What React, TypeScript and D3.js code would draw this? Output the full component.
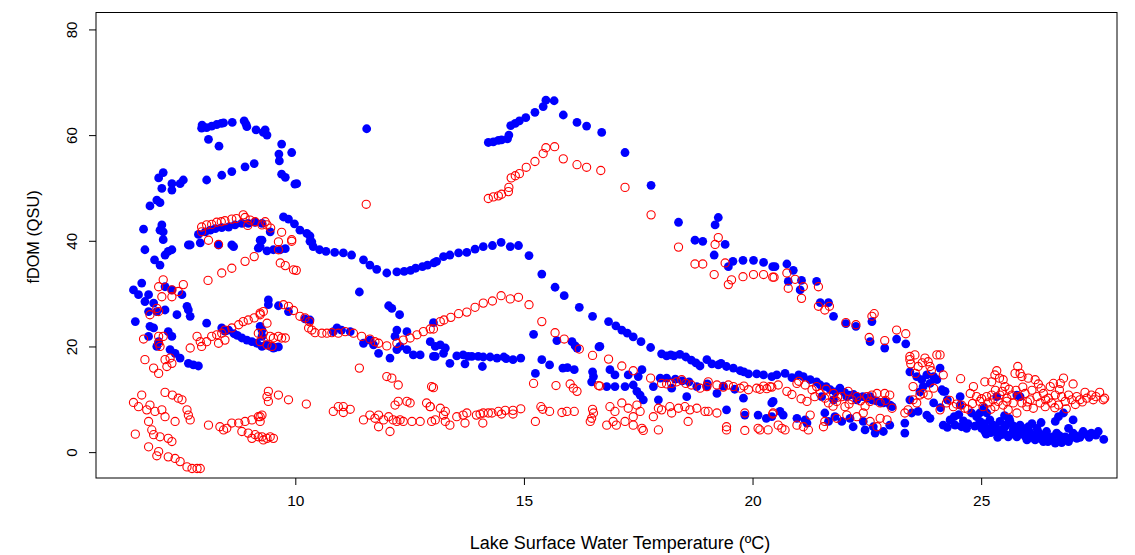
import React from "react";
import * as d3 from "d3";

// Blue series (filled dots): [temperature ºC, fDOM QSU]
const bluePoints: [number, number][] = [
  [7.10,53.0],[7.00,52.0],[7.07,50.0],[7.29,50.9],[7.29,49.7],[7.47,50.9],[7.54,51.6],[6.96,47.8],[7.03,47.3],[6.81,46.7],[7.07,43.1],[7.03,42.1],[7.10,41.8],[6.67,42.3],[7.10,40.3],
  [6.70,38.4],[6.91,36.5],[7.03,35.5],[7.14,37.4],[7.21,38.1],[7.29,38.4],[7.65,39.3],[7.91,39.7],[8.31,39.3],[8.64,39.0],[9.18,38.7],
  [6.63,32.1],[6.45,30.8],[6.56,29.9],[6.78,29.9],[6.70,28.6],[6.89,28.3],[7.14,31.4],[7.29,30.8],[7.51,29.9],[6.96,26.7],[7.14,27.0],[7.62,27.7],[7.65,27.0],[7.40,26.1],[7.69,25.8],[6.78,26.7],[6.49,24.8],[6.81,23.9],[6.89,23.6],[6.78,22.0],[7.21,22.9],[7.29,22.0],[6.96,20.1],[7.00,21.0],[7.25,19.5],[7.36,18.8],[7.47,17.9],[7.65,16.9],[7.76,16.6],[7.87,16.4],
  [8.05,24.5],[8.82,21.7],[8.93,21.3],[9.04,21.0],[9.15,20.7],[9.26,20.1],[8.38,23.6],[8.53,23.2],[9.26,23.2],[8.45,23.0],[8.65,22.5],[8.72,22.2],[9.35,20.4],[9.55,19.9],[9.62,20.0],
  [7.94,61.4],[7.95,62.0],[8.05,61.5],[8.16,61.8],[8.27,62.1],[8.37,62.3],[8.42,62.4],[8.61,62.5],[8.87,62.8],[8.91,62.2],[8.93,61.7],[9.13,61.1],[9.29,60.6],[9.33,61.1],[9.37,60.1],[9.69,58.4],[9.63,56.5],[9.91,56.8],[9.64,55.2],[9.69,52.7],[9.77,52.1],[9.98,50.8],[10.02,50.9],[8.09,59.3],[8.32,58.0],
  [8.05,51.6],[8.38,52.5],[8.60,53.2],[8.89,54.1],[9.09,54.7],[11.55,61.3],
  [7.87,41.3],[8.02,41.8],[8.13,42.1],[8.24,42.4],[8.38,42.6],[8.53,42.7],[8.67,43.1],[8.82,43.4],[8.96,43.4],[9.11,43.6],[9.26,43.4],[7.69,39.3],[9.22,40.2],[8.60,39.3],
  [9.44,41.8],[9.26,40.2],[9.73,44.6],[9.84,44.2],[9.97,43.3],[10.09,42.1],[10.24,41.5],[10.31,41.0],[10.35,39.9],
  [9.22,39.0],[9.37,38.2],[9.51,38.4],[9.66,38.4],[9.77,38.6],
  [10.31,40.0],[10.38,39.0],[10.52,38.4],[10.66,38.1],[10.85,37.9],[11.04,37.8],[11.22,37.4],[11.48,36.5],[11.62,35.5],[11.77,34.7],[11.99,34.0],[12.21,34.2],[12.37,34.3],[12.51,34.5],[12.62,34.9],[12.77,35.2],[12.88,35.5],[13.02,35.9],
  [13.08,36.2],[13.23,37.1],[13.37,37.4],[13.56,37.8],[13.74,37.9],[13.92,38.5],[14.10,39.0],[14.30,39.2],[14.49,39.8],[14.69,39.0],[14.87,39.2],[15.10,37.3],[15.38,33.8],[15.67,31.3],[15.87,29.7],[16.20,27.5],[16.49,25.8],
  [16.84,24.8],[17.13,23.2],[17.38,21.9],[17.76,19.9],[18.00,18.7],[18.11,18.3],[18.27,18.3],[18.40,18.6],[18.53,18.1],[18.84,16.4],[18.99,17.6],[19.10,16.8],[19.24,16.6],[19.42,16.3],[19.57,16.0],[19.72,15.5],[19.90,14.9],[20.08,14.9],[20.23,14.7],[20.41,14.4],
  [17.00,24.0],[17.25,22.6],[17.55,21.0],[18.20,18.5],[18.65,17.5],[18.75,17.0],[19.30,16.9],[19.80,15.3],
  [20.52,14.7],[20.70,15.0],[20.85,14.2],[21.00,14.7],[21.10,14.4],[21.25,13.8],[21.39,13.4],[21.47,12.8],[21.60,12.5],[21.69,11.9],[21.80,11.5],[21.90,12.2],[22.00,11.4],[22.10,10.9],[22.20,11.0],[22.30,10.5],[22.40,10.6],[22.50,10.3],[22.60,10.0],[22.70,9.8],[22.80,9.5],[22.90,9.6],[23.00,9.0],
  [9.40,28.9],[9.40,28.0],[9.62,27.8],[9.84,26.7],[10.20,25.3],[10.31,25.1],[10.90,23.6],[11.00,23.2],[11.19,22.9],[10.82,22.9],[9.22,23.9],[9.26,22.0],[9.44,20.1],[9.51,19.8],[11.39,30.4],[12.03,27.8],[12.10,27.3],[12.27,26.1],
  [11.48,20.7],[11.62,21.3],[11.70,20.4],[11.81,18.8],[12.06,17.9],[12.21,19.5],[12.28,20.1],[12.43,19.5],[12.57,18.5],[12.72,18.5],[13.01,18.2],[12.17,22.0],[12.21,23.2],[12.43,22.9],[13.01,24.6],
  [12.94,21.0],[13.05,20.1],[13.16,20.4],[13.27,19.8],[13.23,18.8],[13.37,16.9],[13.05,18.2],[13.52,18.3],[13.66,18.5],[13.70,16.8],[13.77,18.2],[13.99,18.2],[14.10,18.1],[14.08,16.3],[14.25,18.1],[14.40,17.9],[14.55,18.1],[14.75,17.6],[14.92,17.9],[13.85,18.2],[14.60,17.8],
  [15.20,22.4],[15.24,15.0],[15.38,17.6],[15.55,16.6],[15.71,21.2],[15.84,16.0],[15.94,16.1],[16.09,15.7],[16.04,21.0],[16.11,20.2],[16.15,19.8],[16.49,15.3],[16.51,14.4],[16.47,13.4],[16.63,20.0],
  [16.65,20.1],[16.87,15.7],[16.98,14.7],[16.80,12.5],[16.98,12.5],[17.20,12.5],[17.27,14.7],[17.38,12.8],[17.49,14.4],[17.57,15.7],[17.46,11.6],[17.53,10.9],[17.60,10.0],[17.82,12.5],[17.93,10.0],[17.97,14.1],[18.11,14.1],[18.22,12.2],[18.55,10.6],[18.77,12.5],[18.99,12.5],[19.21,11.2],[19.42,8.1],[19.79,10.3],[19.82,7.1],[20.11,7.1],[20.29,6.5],[20.41,9.4],
  [18.30,13.9],[18.45,13.6],[18.60,13.4],[19.00,13.0],[19.35,12.6],[19.60,12.0],
  [16.69,60.6],[17.20,56.8],[17.77,50.6],[18.37,43.6],[18.73,40.2],[18.90,40.0],[19.24,44.5],[19.17,43.1],[19.39,39.4],[19.15,37.4],[19.46,35.2],[19.56,36.2],[19.78,36.4],[20.01,36.4],[20.23,36.0],[20.43,35.2],
  [14.21,58.7],[14.32,58.8],[14.43,59.1],[14.50,59.2],[14.63,59.4],[14.66,60.1],[14.70,61.9],[14.80,62.3],[14.89,62.8],[15.03,63.4],[15.23,64.4],[15.41,65.5],[15.47,66.7],[15.65,66.6],[15.85,63.9],[16.15,62.5],[16.36,61.8],
  [20.48,35.2],[20.74,35.7],[20.88,34.5],[20.77,32.4],[21.06,32.6],[21.03,30.8],[21.39,32.4],[21.47,28.4],[21.65,28.4],[21.76,25.8],[22.03,24.4],[22.25,23.9],[22.60,24.8],[22.56,21.0],[22.88,19.8],[23.14,21.5],[23.34,20.6],
  [23.43,15.3],[23.58,14.4],[23.69,13.8],[23.80,14.7],[23.95,14.4],[24.02,13.8],[23.87,13.1],[23.72,12.5],[23.43,10.0],[23.47,7.5],[23.61,7.8],[23.80,7.1],[23.87,6.5],[23.95,9.4],[23.32,5.6],[23.32,3.7],[23.65,11.5],
  [20.44,9.7],[20.59,7.8],[20.66,7.1],[20.96,6.5],[21.14,6.2],[21.18,5.6],[21.57,7.5],[21.65,5.9],[21.79,6.8],[21.94,5.9],[22.12,6.5],[22.19,4.9],[22.41,5.9],[22.45,4.3],[22.63,4.9],[22.67,3.7],[22.85,4.0],[22.99,5.2],[21.50,10.6],[21.76,10.0],[22.05,10.6],[22.27,10.0],[22.56,10.6],[22.85,9.4],[23.04,8.7],[20.41,6.8],
  [24.16,5.2],[24.13,11.9],[24.20,11.6],[24.31,6.2],[24.42,5.2],[24.56,4.9],[24.67,4.6],[24.53,10.6],[24.78,7.5],[24.89,6.8],[24.96,5.9],[25.00,4.6],[25.07,4.0],[25.18,6.2],[25.25,5.2],[25.33,4.0],[25.40,5.9],[25.44,3.4],[25.51,4.9],[25.58,3.0],[25.62,5.9],[25.69,4.3],[25.77,3.0],[25.84,5.2],[25.91,3.7],[25.99,2.4],[26.02,4.9],[26.10,3.4],[26.17,2.4],[26.21,4.6],[26.28,3.0],[26.35,2.1],[26.42,4.0],[26.50,2.4],[26.61,1.8],[26.64,3.7],[26.72,2.4],[26.83,3.0],[26.90,2.1],[27.00,3.7],[27.08,2.7],[27.22,4.0],[27.30,3.4],[27.40,3.7],[27.55,4.0],[27.67,2.5],[25.77,10.9],[25.84,10.6],[25.33,10.6],[26.61,5.9],[26.68,6.8],[26.79,7.5],[27.00,6.2],[24.96,7.5],[25.11,7.5],[24.53,9.0],[24.09,16.0],[24.16,11.6],
  [24.25,4.8],[24.60,6.0],[24.70,5.5],[24.85,5.0],[25.05,5.5],[25.15,4.6],[25.20,3.8],[25.30,5.0],[25.45,4.4],[25.50,3.6],[25.55,5.4],[25.65,3.5],[25.70,5.0],[25.80,4.0],[25.90,4.6],[25.95,3.1],[26.05,3.9],[26.15,3.2],[26.25,3.8],[26.30,2.6],[26.40,3.2],[26.45,2.1],[26.55,3.0],[26.70,3.2],[26.75,1.9],[26.80,2.6],[26.95,2.8],[27.05,3.2],[27.15,2.9],[27.20,3.6],[27.35,2.9],[27.50,3.3],[25.10,3.5],[25.35,2.9],[24.40,6.8],[24.50,7.2],[25.05,8.5],[25.50,7.0],[25.60,6.5],[26.10,5.5],[26.30,5.7],[26.90,4.6],[24.10,8.5],[24.25,10.0],
];

// Red series (open circles): [temperature ºC, fDOM QSU]
const redPoints: [number, number][] = [
  [7.94,42.7],[8.05,43.1],[8.16,43.2],[8.27,43.6],[8.37,43.7],[8.60,44.2],[8.85,45.0],[8.89,44.5],[9.11,43.7],[9.26,43.1],[7.94,41.8],[8.09,40.2],[8.31,39.4],[9.33,43.7],[9.37,43.1],[9.69,41.7],[9.91,40.3],[9.62,39.9],[11.54,47.0],
  [8.45,43.9],[8.70,44.3],[9.00,44.0],[8.95,43.0],[9.45,42.5],
  [8.08,32.6],[8.38,34.0],[8.60,34.9],[8.89,36.2],[9.09,37.1],[7.10,32.7],[7.00,31.4],[7.29,30.8],[7.54,31.8],[7.43,30.5],[7.07,29.5],[7.29,29.5],[6.96,27.3],[7.00,26.7],[6.81,26.1],[6.67,21.5],[7.00,22.0],[7.10,22.0],[7.00,20.7],[7.03,20.1],[7.14,17.6],[7.25,17.9],[7.29,16.9],[7.18,16.3],[6.70,17.6],[6.89,16.0],[7.00,15.0],
  [7.69,19.8],[7.84,22.0],[7.91,21.0],[7.94,20.1],[8.05,21.0],[8.16,22.0],[8.27,22.3],[8.38,22.6],[8.45,23.2],[8.60,23.6],[8.75,24.2],[8.85,24.8],[8.96,25.1],[9.09,25.5],[9.22,26.1],[9.29,26.7],[8.31,20.7],[8.45,21.3],[9.18,22.6],[9.22,21.0],
  [6.63,10.9],[6.45,9.5],[6.56,8.7],[6.74,8.1],[6.81,9.0],[6.92,7.8],[6.78,5.9],[7.14,11.4],[7.30,10.9],[7.43,10.3],[7.51,10.0],[7.07,8.1],[7.14,6.8],[7.36,5.9],[7.62,8.1],[7.65,7.1],[7.69,6.2],[6.49,3.5],[6.85,4.3],[6.89,3.4],[7.03,3.0],[7.21,2.7],[7.29,2.1],[6.78,1.1],[7.00,0.2],[6.96,-0.6],[7.21,-0.8],[7.36,-1.1],[7.47,-1.7],[7.62,-2.7],[7.73,-3.0],[7.84,-3.0],[7.91,-3.0],
  [8.09,5.2],[8.34,4.9],[8.42,4.3],[8.49,4.6],[8.60,5.6],[8.75,5.6],[8.89,5.9],[9.04,6.2],[9.18,6.8],[9.26,7.1],[8.82,4.0],[8.96,3.7],[9.11,3.4],[9.18,3.0],[9.04,2.7],
  [9.62,38.4],[9.66,35.9],[9.77,35.4],[9.95,34.6],[10.01,34.5],[9.91,40.0],[9.73,28.0],[9.84,27.7],[9.95,26.9],[10.09,25.8],[10.20,25.5],[10.30,24.8],[10.28,23.6],[10.35,23.2],[10.42,22.7],[10.57,22.6],[10.68,22.6],[10.79,22.7],[10.93,22.6],[11.08,22.9],[11.26,22.6],[11.44,22.0],[11.62,21.5],[11.73,21.0],[11.81,20.7],[11.99,20.2],[12.21,20.7],[12.35,21.3],[12.50,21.7],[12.65,22.3],[12.79,22.9],[12.94,23.4],
  [9.22,26.4],[9.37,24.5],[9.29,22.6],[9.44,22.0],[9.51,21.7],[9.62,22.0],[9.69,21.7],[9.77,21.7],[9.37,20.4],[9.48,20.1],[11.39,16.0],[11.99,14.4],[12.10,14.1],[12.24,12.8],
  [9.40,11.6],[9.37,10.6],[9.40,9.7],[9.62,10.9],[9.84,10.0],[10.23,9.2],[10.82,7.8],[10.93,8.7],[11.04,8.7],[11.04,7.6],[11.19,8.2],[11.48,6.2],[11.62,7.1],[11.73,6.5],[11.81,7.1],[11.81,4.9],[11.92,6.2],[12.03,6.8],[12.06,4.0],[12.13,6.2],[12.21,5.9],[12.28,6.2],[12.35,5.9],[12.54,5.9],[12.72,5.9],[12.17,9.0],[12.24,9.7],[12.43,9.7],[12.50,9.4],[12.86,9.4],[12.94,8.7],[12.97,12.5],[12.97,5.9],[9.22,6.8],[9.22,5.9],[9.26,3.0],[9.37,2.7],[9.44,3.0],[9.51,2.7],[9.29,2.4],
  [14.21,48.1],[14.32,48.4],[14.43,48.6],[14.50,48.9],[14.65,49.4],[14.66,50.2],[14.71,52.0],[14.80,52.4],[14.89,52.8],[15.04,54.0],[15.23,55.1],[15.41,56.6],[15.47,57.7],[15.66,57.9],[15.85,55.6],[16.15,54.5],[16.36,54.0],[16.67,53.4],
  [13.01,23.4],[13.16,24.8],[13.24,25.1],[13.39,25.6],[13.56,26.3],[13.74,26.6],[13.92,27.5],[14.10,28.3],[14.30,28.7],[14.49,29.7],[14.69,29.1],[14.87,29.4],[15.10,28.0],[15.38,24.8],[15.67,22.7],[15.87,21.5],[16.20,19.6],[16.49,18.4],
  [13.01,12.3],[15.20,13.1],[15.69,12.7],[16.00,13.0],[16.07,12.2],[16.15,11.6],[16.62,12.7],
  [12.94,8.7],[13.16,8.4],[13.27,7.8],[13.05,6.2],[13.23,7.1],[13.27,5.9],[13.37,5.2],[13.52,6.8],[13.66,7.1],[13.70,5.6],[13.74,7.5],[13.95,7.1],[14.03,7.3],[14.10,7.5],[14.09,5.6],[14.21,7.5],[14.29,7.5],[14.43,7.8],[14.50,7.3],[14.58,8.0],[14.75,8.0],[14.75,7.3],[14.92,8.3],[15.24,5.9],[15.36,8.7],[15.40,8.2],[15.55,7.8],[15.82,7.6],[15.93,7.8],[16.09,7.8],[16.49,8.2],[16.51,7.5],[16.47,6.5],[16.44,5.9],
  [17.20,50.2],[17.77,45.0],[18.37,38.9],[19.24,40.7],[19.17,39.4],[18.73,35.7],[18.90,35.7],[19.39,35.9],[19.15,33.7],[19.46,31.8],[19.53,32.7],[19.78,33.3],[20.01,33.7],[20.23,33.7],[20.43,33.2],
  [16.84,17.7],[17.13,16.4],[17.38,15.5],[16.65,12.6],[17.76,14.1],[18.00,13.1],[18.11,13.0],[18.22,13.1],[18.33,13.4],[18.44,13.8],[18.53,13.1],[18.84,12.2],[18.99,12.5],[19.02,13.4],[19.21,12.8],[19.46,12.8],[19.57,12.5],[19.72,12.2],[19.90,11.9],[20.08,12.2],[20.23,12.6],[20.41,12.4],
  [18.65,12.8],[19.35,12.4],[19.80,12.6],[20.15,12.0],[20.30,12.1],
  [16.87,8.7],[17.13,9.4],[16.98,7.8],[17.27,8.4],[17.46,9.0],[17.53,7.8],[17.38,6.8],[16.80,5.2],[16.94,5.9],[17.01,5.2],[17.20,5.9],[17.38,5.2],[17.57,4.6],[17.60,4.2],[17.82,6.8],[17.93,8.4],[18.00,8.1],[18.18,8.7],[18.22,7.5],[18.37,8.4],[18.51,8.7],[18.62,8.1],[18.77,8.4],[18.95,7.8],[19.02,7.8],[19.21,7.5],[18.58,5.9],[17.93,4.3],[19.42,4.9],[19.42,4.3],[19.82,7.5],[19.82,4.2],[20.11,4.6],[20.15,4.3],[20.33,4.3],[20.43,7.3],
  [20.46,33.2],[20.74,34.0],[20.92,32.8],[20.77,31.1],[21.10,31.4],[21.06,29.2],[21.43,31.4],[21.43,27.7],[21.57,27.0],[21.67,27.7],[22.03,24.6],[22.25,24.2],[22.60,25.8],[22.65,26.3],[22.54,21.8],[22.88,21.2],[23.14,23.2],[23.34,22.5],
  [23.43,18.2],[23.54,18.5],[23.76,17.9],[23.83,17.2],[24.02,18.5],[23.61,16.3],[23.87,16.3],[23.43,17.6],[23.50,12.5],[23.65,10.9],[23.72,11.2],[23.83,10.9],[23.95,12.2],[23.50,10.0],[23.32,7.5],[23.39,8.1],[23.58,9.4],[23.70,17.0],[23.90,15.5],[23.55,15.0],[23.45,16.8],
  [20.37,12.5],[20.55,12.8],[20.74,11.6],[20.96,13.1],[21.14,12.8],[21.29,11.9],[21.39,12.5],[21.18,9.7],[21.47,11.2],[21.57,10.3],[21.65,9.4],[21.76,11.2],[21.83,9.7],[21.94,10.6],[22.01,8.7],[22.08,11.6],[22.16,10.0],[22.27,10.6],[22.49,10.6],[22.56,9.7],[22.71,11.2],[22.78,9.4],[22.88,11.2],[22.99,10.9],[23.04,8.4],
  [20.44,7.5],[20.55,5.2],[20.63,4.6],[20.70,4.3],[20.96,5.2],[21.10,4.9],[21.21,4.3],[21.25,7.1],[21.54,4.9],[21.57,5.9],[21.83,6.5],[22.05,7.1],[22.27,6.8],[22.41,7.5],[22.56,5.9],[22.71,4.9],[22.78,6.5],[22.93,6.2],
  [21.00,13.5],[21.60,12.0],[21.85,10.5],[22.10,9.2],[22.35,9.8],[22.45,8.8],[22.60,10.9],[22.90,9.9],[21.35,10.6],[21.75,8.8],[20.85,11.0],[21.05,10.2],
  [24.09,18.5],[24.16,14.7],[24.54,14.0],[24.82,12.5],[24.75,11.2],[25.07,13.4],[25.22,13.4],[25.29,14.7],[25.33,15.5],[25.39,14.1],[25.47,13.8],[25.51,12.5],[25.73,15.0],[25.79,16.3],[25.84,15.0],[25.88,14.4],[26.02,14.1],[26.17,13.8],[26.24,13.0],[26.50,12.5],[26.57,13.1],[26.72,13.1],[26.79,14.1],[27.00,13.0],[27.26,11.4],[27.40,10.9],[27.58,11.4],[27.69,10.3],[27.66,10.0],
  [24.23,9.4],[24.38,8.7],[24.56,9.0],[24.63,8.4],[24.89,10.6],[24.96,9.7],[25.03,8.7],[25.11,10.6],[25.14,9.4],[25.22,10.9],[25.25,10.0],[25.29,8.7],[25.36,9.7],[25.40,10.9],[25.47,9.0],[25.55,10.3],[25.58,8.1],[25.66,10.9],[25.69,9.4],[25.77,7.5],[25.80,10.6],[25.88,9.4],[25.95,11.2],[25.99,8.7],[26.06,10.0],[26.13,8.4],[26.21,10.6],[26.28,9.4],[26.35,11.2],[26.39,8.7],[26.46,10.3],[26.53,9.4],[26.61,10.9],[26.68,9.0],[26.75,10.6],[26.83,9.7],[26.90,10.9],[26.97,10.0],[27.08,10.6],[27.15,10.0],[27.30,10.3],[27.44,10.0],[24.09,8.1],
  [24.30,9.9],[24.45,9.2],[24.70,8.2],[24.80,9.3],[25.00,10.2],[25.20,8.2],[25.45,11.6],[25.60,12.0],[25.75,11.8],[25.90,12.4],[26.10,11.8],[26.30,12.2],[26.40,10.0],[26.60,8.5],[26.85,8.3],[27.05,9.1],[27.20,9.6],[27.50,10.6],[25.30,11.8],[25.55,9.7],[26.00,9.6],[26.70,11.9],
];

const xTicks = [10, 15, 20, 25];
const yTicks = [0, 20, 40, 60, 80];
const xTitle = "Lake Surface Water Temperature (ºC)";
const yTitle = "fDOM (QSU)";

const W = 1135;
const H = 555;
const plot = { left: 96, right: 1117, top: 12.5, bottom: 478 };
const FONT = "'Liberation Sans', Arial, Helvetica, sans-serif";

export default function App() {
  const x = d3.scaleLinear().domain([5.63, 27.96]).range([plot.left, plot.right]);
  const y = d3.scaleLinear().domain([-4.8, 83.3]).range([plot.bottom, plot.top]);

  return (
    <svg
      width={W}
      height={H}
      viewBox={`0 0 ${W} ${H}`}
      style={{ position: "absolute", left: 0, top: 0, background: "#fff" }}
      fontFamily={FONT}
    >
      <rect x={0} y={0} width={W} height={H} fill="#fff" />
      <g>
        {bluePoints.map(([t, f], i) => (
          <circle key={"b" + i} cx={x(t)} cy={y(f)} r={4.4} fill="#0000FF" />
        ))}
      </g>
      <g>
        {redPoints.map(([t, f], i) => (
          <circle key={"r" + i} cx={x(t)} cy={y(f)} r={4.1} fill="none" stroke="#FF0000" strokeWidth={1.1} />
        ))}
      </g>
      <rect
        x={plot.left}
        y={plot.top}
        width={plot.right - plot.left}
        height={plot.bottom - plot.top}
        fill="none"
        stroke="#000"
        strokeWidth={1}
      />
      {xTicks.map((t) => (
        <g key={"xt" + t}>
          <line x1={x(t)} x2={x(t)} y1={plot.bottom} y2={plot.bottom + 7} stroke="#000" />
          <text x={x(t)} y={506} textAnchor="middle" fontSize={15.5}>
            {t}
          </text>
        </g>
      ))}
      {yTicks.map((v) => (
        <g key={"yt" + v}>
          <line x1={plot.left - 7} x2={plot.left} y1={y(v)} y2={y(v)} stroke="#000" />
          <text transform={`translate(77,${y(v)}) rotate(-90)`} textAnchor="middle" fontSize={15}>
            {v}
          </text>
        </g>
      ))}
      <text x={620} y={549} textAnchor="middle" fontSize={18}>
        {xTitle}
      </text>
      <text transform={`translate(39,237) rotate(-90)`} textAnchor="middle" fontSize={16.3}>
        {yTitle}
      </text>
    </svg>
  );
}
